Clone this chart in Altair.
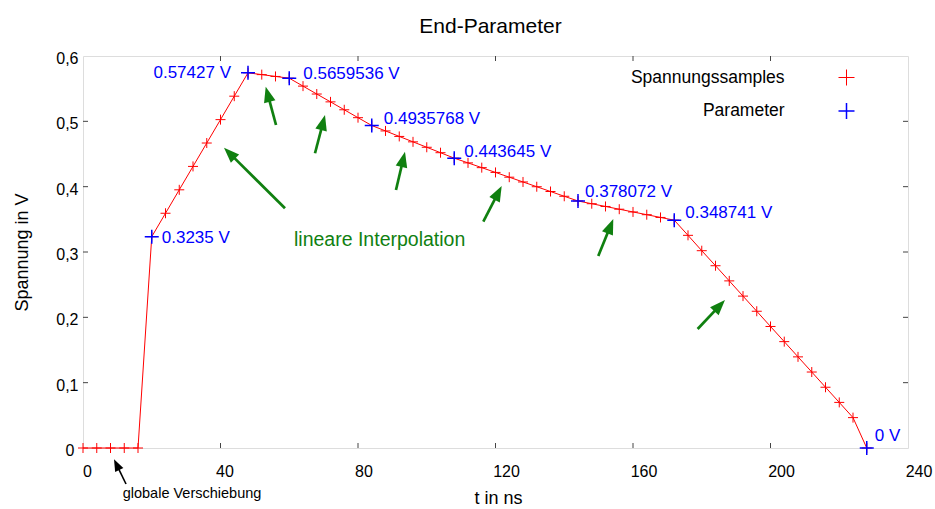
import math

import altair as alt
import pandas as pd

FONT = "Liberation Sans"

# Spannungssamples: time in ns, voltage in V
sample_t = [0, 4, 8, 12, 16, 20, 24, 28, 32, 36, 40, 44, 48, 52, 56, 60,
            64, 68, 72, 76, 80, 84, 88, 92, 96, 100, 104, 108, 112, 116,
            120, 124, 128, 132, 136, 140, 144, 148, 152, 156, 160, 164,
            168, 172, 176, 180, 184, 188, 192, 196, 200, 204, 208, 212,
            216, 220, 224, 228]
sample_v = [0.0, 0.0, 0.0, 0.0, 0.0, 0.3235, 0.3593, 0.3952, 0.4310, 0.4668,
            0.5026, 0.5385, 0.5743, 0.5715, 0.5687, 0.5660, 0.5539, 0.5418,
            0.5298, 0.5177, 0.5056, 0.4936, 0.4853, 0.4769, 0.4686, 0.4603,
            0.4520, 0.4436, 0.4364, 0.4291, 0.4218, 0.4145, 0.4072, 0.3999,
            0.3926, 0.3853, 0.3781, 0.3739, 0.3697, 0.3655, 0.3613, 0.3571,
            0.3529, 0.3487, 0.3255, 0.3020, 0.2790, 0.2558, 0.2325, 0.2093,
            0.1860, 0.1628, 0.1395, 0.1163, 0.0930, 0.0698, 0.0465, 0.0]

# extracted end parameters
param_t = [20, 48, 60, 84, 108, 144, 172, 228]
param_v = [0.3235, 0.57427, 0.5659536, 0.4935768, 0.443645, 0.378072,
           0.348741, 0.0]
param_text = ["0.3235 V", "0.57427 V", "0.5659536 V", "0.4935768 V",
              "0.443645 V", "0.378072 V", "0.348741 V", "0 V"]

# green arrows pointing at the interpolated segments (tail -> tip)
arrow_tail_t = [58.76, 56.15, 67.49, 91.05, 116.45, 149.9, 178.8]
arrow_tail_v = [0.3669, 0.4944, 0.4511, 0.3949, 0.3464, 0.2939, 0.1821]
arrow_tip_t = [41.02, 53.15, 70.40, 93.67, 121.80, 154.27, 186.76]
arrow_tip_v = [0.4596, 0.5530, 0.5097, 0.4535, 0.4010, 0.3505, 0.2265]

# black arrow for the global shift note
shift_tail_t, shift_tail_v = [12.51], [-0.0551]
shift_tip_t, shift_tip_v = [9.02], [-0.0173]

interp_label = {"t": 61.38, "v": 0.3184, "text": "lineare Interpolation"}
shift_label = {"t": 11.55, "v": -0.0709, "text": "globale Verschiebung"}
chart_title = "End-Parameter"

x_ticks = [0, 40, 80, 120, 160, 200, 240]
y_ticks = [0, 0.1, 0.2, 0.3, 0.4, 0.5, 0.6]

# ---- layout / style ----
W, H = 825, 392
X_DOM = [0, 240]
Y_DOM = [0, 0.6]
GREEN = "#108010"
CROSS = "M-1,0L1,0M0,-1L0,1"
HEAD = "M0,0L-0.38,1L0.38,1Z"

# (dx, dy, align) for each parameter label
label_style = [(10, 1, "left"), (-17, 0, "right"), (14, -4, "left"),
               (12, -7, "left"), (10, -6, "left"), (7, -9, "left"),
               (11, -7, "left"), (8, -12, "left")]

xscale = alt.Scale(domain=X_DOM, nice=False, zero=False)
yscale = alt.Scale(domain=Y_DOM, nice=False, zero=False)

xaxis = alt.Axis(
    values=x_ticks, format="d", title="t in ns", grid=False, ticks=False,
    domain=False, labelFlush=False, labelOverlap=False,
    labelFont=FONT, labelFontSize=16, labelColor="black",
    labelPadding=23, labelBaseline="middle",
    labelOffset={"condition": [{"test": "datum.value <= 40", "value": 4},
                               {"test": "datum.value <= 80", "value": 5.5}],
                 "value": 10.5},
    titleFont=FONT, titleFontSize=18, titleFontWeight="normal",
    titleColor="black", titleX=415, titleY=50, titleBaseline="middle",
)
yaxis = alt.Axis(
    values=y_ticks, title="Spannung in V", grid=False, ticks=False,
    domain=False, labelFlush=False, labelOverlap=False,
    labelExpr="datum.value == 0 ? '0' : replace(format(datum.value, '.1f'), '.', ',')",
    labelFont=FONT, labelFontSize=16, labelColor="black",
    labelPadding={"condition": {"test": "datum.value == 0", "value": 9},
                  "value": 5},
    labelBaseline="middle", labelOffset=2.5,
    titleFont=FONT, titleFontSize=18, titleFontWeight="normal",
    titleColor="black", titleX=-61, titleY=196, titleBaseline="middle",
    titleAngle=270,
)


def X(field):
    return alt.X(f"{field}:Q", scale=xscale, axis=xaxis)


def Y(field):
    return alt.Y(f"{field}:Q", scale=yscale, axis=yaxis)


def arrow_rows(tt, tv, pt, pv, head_len):
    sx = W / (X_DOM[1] - X_DOM[0])
    sy = H / (Y_DOM[1] - Y_DOM[0])
    rows = []
    for a, b, c, d in zip(tt, tv, pt, pv):
        dx = (c - a) * sx
        dy = -(d - b) * sy
        length = math.hypot(dx, dy)
        ux, uy = dx / length, dy / length
        back = 0.7 * head_len
        rows.append({
            "t": a, "v": b,
            "t2": c - ux * back / sx, "v2": d + uy * back / sy,
            "tip_t": c, "tip_v": d,
            "angle": math.degrees(math.atan2(ux, -uy)) % 360,
        })
    return pd.DataFrame(rows)


samples = pd.DataFrame({"t": sample_t, "v": sample_v})
params = pd.DataFrame({"t": param_t, "v": param_v, "label": param_text,
                       "idx": list(range(len(param_t)))})

line = alt.Chart(samples).mark_line(color="red", strokeWidth=1).encode(
    x=X("t"), y=Y("v"))
red_pts = alt.Chart(samples).mark_point(
    shape=CROSS, filled=False, size=100, strokeWidth=1, color="red",
    opacity=1).encode(x=X("t"), y=Y("v"))
blue_pts = alt.Chart(params).mark_point(
    shape=CROSS, filled=False, size=196, strokeWidth=1.5, color="blue",
    opacity=1).encode(x=X("t"), y=Y("v"))

label_layers = []
for i, (dx, dy, align) in enumerate(label_style):
    label_layers.append(
        alt.Chart(params).transform_filter(f"datum.idx == {i}").mark_text(
            font=FONT, fontSize=17, color="blue", align=align,
            baseline="middle", dx=dx, dy=dy).encode(
            x=X("t"), y=Y("v"), text="label:N"))


def arrow_layers(df, color, width, head_len):
    shaft = alt.Chart(df).mark_rule(color=color, strokeWidth=width,
                                    strokeCap="butt").encode(
        x=X("t"), y=Y("v"), x2="t2:Q", y2="v2:Q")
    head = alt.Chart(df).mark_point(
        shape=HEAD, filled=True, size=(2 * head_len) ** 2, color=color,
        opacity=1, strokeWidth=0).encode(
        x=X("tip_t"), y=Y("tip_v"), angle=alt.Angle("angle:Q", scale=None))
    return [shaft, head]


green_arrows = arrow_layers(
    arrow_rows(arrow_tail_t, arrow_tail_v, arrow_tip_t, arrow_tip_v, 15.5),
    GREEN, 2.7, 15.5)
black_arrow = arrow_layers(
    arrow_rows(shift_tail_t, shift_tail_v, shift_tip_t, shift_tip_v, 12),
    "black", 1.6, 12)

interp_text = alt.Chart(pd.DataFrame([interp_label])).mark_text(
    font=FONT, fontSize=19.5, color=GREEN, align="left",
    baseline="middle").encode(x=X("t"), y=Y("v"), text="text:N")
shift_text = alt.Chart(pd.DataFrame([shift_label])).mark_text(
    font=FONT, fontSize=14.5, color="black", align="left",
    baseline="middle").encode(x=X("t"), y=Y("v"), text="text:N")

# inward tick marks on all four sides
xt = pd.DataFrame({"t": x_ticks[1:-1]})
yt = pd.DataFrame({"v": y_ticks[1:-1]})
tick_style = dict(color="#444444", strokeWidth=1)
ticks = [
    alt.Chart(xt).mark_rule(**tick_style).encode(
        x=X("t"), y=alt.value(H), y2=alt.value(H - 5)),
    alt.Chart(xt).mark_rule(**tick_style).encode(
        x=X("t"), y=alt.value(0), y2=alt.value(5)),
    alt.Chart(yt).mark_rule(**tick_style).encode(
        y=Y("v"), x=alt.value(0), x2=alt.value(5)),
    alt.Chart(yt).mark_rule(**tick_style).encode(
        y=Y("v"), x=alt.value(W), x2=alt.value(W - 5)),
]

# key: text on the left, symbol on the right
one = pd.DataFrame({"k": [0]})
key = [
    alt.Chart(one).mark_text(text="Spannungssamples", font=FONT,
                             fontSize=17.5, align="right", baseline="middle",
                             color="black").encode(
        x=alt.value(701.6), y=alt.value(21.6)),
    alt.Chart(one).mark_point(shape=CROSS, filled=False, size=256,
                              strokeWidth=1, color="red", opacity=1).encode(
        x=alt.value(763.5), y=alt.value(21.5)),
    alt.Chart(one).mark_text(text="Parameter", font=FONT, fontSize=17.5,
                             align="right", baseline="middle",
                             color="black").encode(
        x=alt.value(701.6), y=alt.value(55)),
    alt.Chart(one).mark_point(shape=CROSS, filled=False, size=256,
                              strokeWidth=1.5, color="blue", opacity=1).encode(
        x=alt.value(763.5), y=alt.value(55)),
]

# chart heading above the frame
heading = alt.Chart(one).mark_text(
    text=chart_title, font=FONT, fontSize=21, align="center",
    baseline="alphabetic", color="black").encode(
    x=alt.value(407.5), y=alt.value(-23))

chart = alt.layer(
    *ticks, line, red_pts, blue_pts, *label_layers, *green_arrows,
    *black_arrow, interp_text, shift_text, *key, heading,
).properties(
    width=W, height=H,
    autosize=alt.AutoSizeParams(type="none"),
    padding={"left": 83, "top": 56, "right": 27, "bottom": 61},
).configure_view(stroke="black", strokeWidth=1.5).configure(
    background="white")

chart.save("out.html", embed_options={"renderer": "svg", "actions": False})
